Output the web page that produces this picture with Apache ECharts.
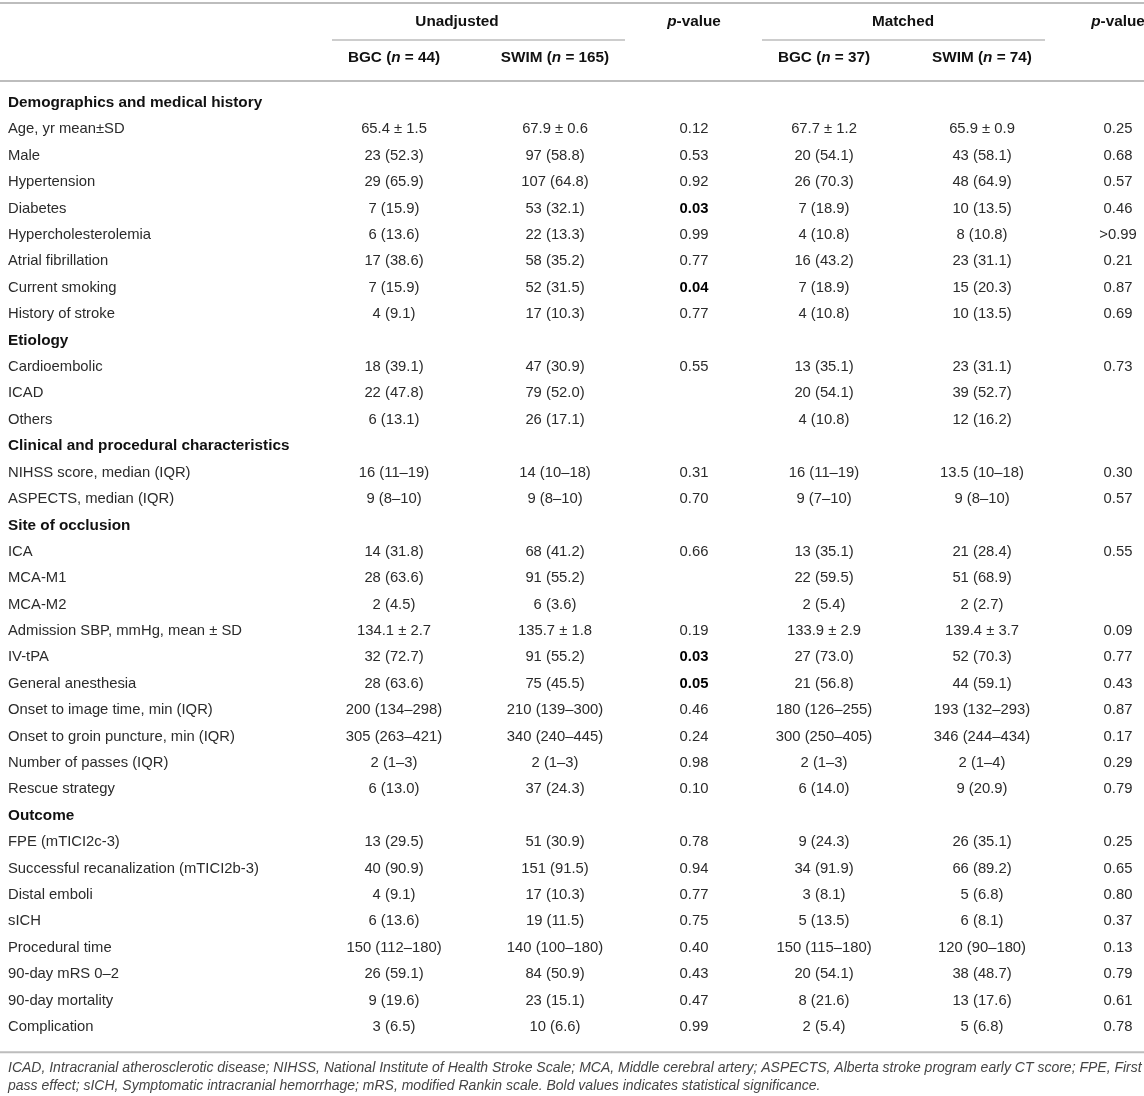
<!DOCTYPE html>
<html>
<head>
<meta charset="utf-8">
<script src="https://cdn.jsdelivr.net/npm/echarts@6/dist/echarts.min.js"></script>
<style>
  html, body { margin: 0; padding: 0; background: #fff; }
  #table-chart { width: 1144px; height: 1096px; }
</style>
</head>
<body>
<div id="table-chart"></div>
<script>
// Table values, row by row
const rowLabels = [
    'Demographics and medical history',
    'Age, yr mean±SD', 'Male', 'Hypertension', 'Diabetes', 'Hypercholesterolemia',
    'Atrial fibrillation', 'Current smoking', 'History of stroke',
    'Etiology',
    'Cardioembolic', 'ICAD', 'Others',
    'Clinical and procedural characteristics',
    'NIHSS score, median (IQR)', 'ASPECTS, median (IQR)',
    'Site of occlusion',
    'ICA', 'MCA-M1', 'MCA-M2', 'Admission SBP, mmHg, mean ± SD', 'IV-tPA',
    'General anesthesia', 'Onset to image time, min (IQR)',
    'Onset to groin puncture, min (IQR)', 'Number of passes (IQR)', 'Rescue strategy',
    'Outcome',
    'FPE (mTICI2c-3)', 'Successful recanalization (mTICI2b-3)', 'Distal emboli', 'sICH',
    'Procedural time', '90-day mRS 0–2', '90-day mortality', 'Complication'
];
const sectionRows = ['Demographics and medical history', 'Etiology',
    'Clinical and procedural characteristics', 'Site of occlusion', 'Outcome'];

const bgcUnadjusted = [
    '', '65.4 ± 1.5', '23 (52.3)', '29 (65.9)', '7 (15.9)', '6 (13.6)', '17 (38.6)', '7 (15.9)', '4 (9.1)',
    '', '18 (39.1)', '22 (47.8)', '6 (13.1)',
    '', '16 (11–19)', '9 (8–10)',
    '', '14 (31.8)', '28 (63.6)', '2 (4.5)', '134.1 ± 2.7', '32 (72.7)', '28 (63.6)', '200 (134–298)',
    '305 (263–421)', '2 (1–3)', '6 (13.0)',
    '', '13 (29.5)', '40 (90.9)', '4 (9.1)', '6 (13.6)', '150 (112–180)', '26 (59.1)', '9 (19.6)', '3 (6.5)'
];
const swimUnadjusted = [
    '', '67.9 ± 0.6', '97 (58.8)', '107 (64.8)', '53 (32.1)', '22 (13.3)', '58 (35.2)', '52 (31.5)', '17 (10.3)',
    '', '47 (30.9)', '79 (52.0)', '26 (17.1)',
    '', '14 (10–18)', '9 (8–10)',
    '', '68 (41.2)', '91 (55.2)', '6 (3.6)', '135.7 ± 1.8', '91 (55.2)', '75 (45.5)', '210 (139–300)',
    '340 (240–445)', '2 (1–3)', '37 (24.3)',
    '', '51 (30.9)', '151 (91.5)', '17 (10.3)', '19 (11.5)', '140 (100–180)', '84 (50.9)', '23 (15.1)', '10 (6.6)'
];
const pUnadjusted = [
    '', '0.12', '0.53', '0.92', '0.03', '0.99', '0.77', '0.04', '0.77',
    '', '0.55', '', '',
    '', '0.31', '0.70',
    '', '0.66', '', '', '0.19', '0.03', '0.05', '0.46',
    '0.24', '0.98', '0.10',
    '', '0.78', '0.94', '0.77', '0.75', '0.40', '0.43', '0.47', '0.99'
];
const bgcMatched = [
    '', '67.7 ± 1.2', '20 (54.1)', '26 (70.3)', '7 (18.9)', '4 (10.8)', '16 (43.2)', '7 (18.9)', '4 (10.8)',
    '', '13 (35.1)', '20 (54.1)', '4 (10.8)',
    '', '16 (11–19)', '9 (7–10)',
    '', '13 (35.1)', '22 (59.5)', '2 (5.4)', '133.9 ± 2.9', '27 (73.0)', '21 (56.8)', '180 (126–255)',
    '300 (250–405)', '2 (1–3)', '6 (14.0)',
    '', '9 (24.3)', '34 (91.9)', '3 (8.1)', '5 (13.5)', '150 (115–180)', '20 (54.1)', '8 (21.6)', '2 (5.4)'
];
const swimMatched = [
    '', '65.9 ± 0.9', '43 (58.1)', '48 (64.9)', '10 (13.5)', '8 (10.8)', '23 (31.1)', '15 (20.3)', '10 (13.5)',
    '', '23 (31.1)', '39 (52.7)', '12 (16.2)',
    '', '13.5 (10–18)', '9 (8–10)',
    '', '21 (28.4)', '51 (68.9)', '2 (2.7)', '139.4 ± 3.7', '52 (70.3)', '44 (59.1)', '193 (132–293)',
    '346 (244–434)', '2 (1–4)', '9 (20.9)',
    '', '26 (35.1)', '66 (89.2)', '5 (6.8)', '6 (8.1)', '120 (90–180)', '38 (48.7)', '13 (17.6)', '5 (6.8)'
];
const pMatched = [
    '', '0.25', '0.68', '0.57', '0.46', '>0.99', '0.21', '0.87', '0.69',
    '', '0.73', '', '',
    '', '0.30', '0.57',
    '', '0.55', '', '', '0.09', '0.77', '0.43', '0.87',
    '0.17', '0.29', '0.79',
    '', '0.25', '0.65', '0.80', '0.37', '0.13', '0.79', '0.61', '0.78'
];
// rows whose unadjusted p-value is printed bold
const significantRows = ['Diabetes', 'Current smoking', 'IV-tPA', 'General anesthesia'];

const groupHeaders = ['Unadjusted', 'Matched'];
const subHeaderGroups = ['BGC', 'SWIM', 'BGC', 'SWIM'];
const subHeaderN = [44, 165, 37, 74];
const footnote = 'ICAD, Intracranial atherosclerotic disease; NIHSS, National Institute of Health Stroke Scale; MCA, Middle cerebral artery; ASPECTS, Alberta stroke program early CT score; FPE, First\npass effect; sICH, Symptomatic intracranial hemorrhage; mRS, modified Rankin scale. Bold values indicates statistical significance.';

// layout (x positions on the hidden 0..1144 axis)
const labelX = 8;
const valueCols = [394, 555, 694, 824, 982, 1118];
const groupCenters = [457, 903];
const groupSpans = [[332, 625], [762, 1045]];
const pCols = [694, 1118];

const FONT = '"Liberation Sans", Arial, sans-serif';
const TEXT = '#2b2b2b';
const RULE = '#bdbdbd';
const BODY_SIZE = 14.8;
const BOLD_SIZE = 15.3;

function txt(x, y, text, opts) {
    opts = opts || {};
    return {
        type: 'text',
        style: Object.assign({
            text: text, x: x, y: y,
            fontFamily: FONT, fontSize: BODY_SIZE, fontWeight: 'normal',
            fill: TEXT,
            align: opts.align || 'center', textAlign: opts.align || 'center',
            verticalAlign: 'middle', textVerticalAlign: 'middle'
        }, opts.style || {})
    };
}

function renderBodyRow(params, api) {
    const i = api.value(1);
    const y = api.coord([0, i])[1];
    const label = rowLabels[i];
    const children = [];
    if (sectionRows.includes(label)) {
        children.push(txt(api.coord([labelX, i])[0], y, label,
            { align: 'left', style: { fontWeight: 'bold', fontSize: BOLD_SIZE, fill: '#111' } }));
        return { type: 'group', children: children };
    }
    children.push(txt(api.coord([labelX, i])[0], y, label, { align: 'left' }));
    const cols = [bgcUnadjusted, swimUnadjusted, pUnadjusted, bgcMatched, swimMatched, pMatched];
    cols.forEach((arr, c) => {
        if (!arr[i]) return;
        const bold = c === 2 && significantRows.includes(label);
        children.push(txt(api.coord([valueCols[c], i])[0], y, arr[i],
            bold ? { style: { fontWeight: 'bold', fill: '#000' } } : {}));
    });
    return { type: 'group', children: children };
}

function renderHeader(params, api) {
    const r = api.value(1);
    const y = api.coord([0, r])[1];
    const cs = params.coordSys;
    const hdr = { fontWeight: 'bold', fontSize: BOLD_SIZE, fill: '#111' };
    const rich = {
        b: { fontFamily: FONT, fontSize: BOLD_SIZE, fontWeight: 'bold', fill: '#111' },
        i: { fontFamily: FONT, fontSize: BOLD_SIZE, fontWeight: 'bold', fontStyle: 'italic', fill: '#111' }
    };
    const children = [];
    if (r === 0) {
        groupHeaders.forEach((g, k) => {
            children.push(txt(api.coord([groupCenters[k], 0])[0], y, g, { style: hdr }));
            const x0 = api.coord([groupSpans[k][0], 0])[0];
            const x1 = api.coord([groupSpans[k][1], 0])[0];
            const yb = cs.y + cs.height / 2;
            children.push({ type: 'line', shape: { x1: x0, y1: yb, x2: x1, y2: yb },
                style: { stroke: RULE, lineWidth: 1.5 } });
        });
        pCols.forEach(px => {
            children.push(txt(api.coord([px, 0])[0], y, '{i|p}{b|-value}', { style: { rich: rich } }));
        });
        // top rule and rule under header
        children.push({ type: 'line', shape: { x1: cs.x, y1: cs.y - 1, x2: cs.x + cs.width, y2: cs.y - 1 },
            style: { stroke: RULE, lineWidth: 2 } });
        children.push({ type: 'line', shape: { x1: cs.x, y1: cs.y + cs.height + 5, x2: cs.x + cs.width, y2: cs.y + cs.height + 5 },
            style: { stroke: RULE, lineWidth: 2 } });
    } else {
        subHeaderGroups.forEach((g, k) => {
            const c = k < 2 ? k : k + 1;
            children.push(txt(api.coord([valueCols[c], 1])[0], y,
                '{b|' + g + ' (}{i|n}{b| = ' + subHeaderN[k] + ')}', { style: { rich: rich } }));
        });
    }
    return { type: 'group', children: children };
}

function renderBodyRule(params, api) {
    const cs = params.coordSys;
    const yb = cs.y + cs.height + 12;
    return { type: 'line', shape: { x1: cs.x, y1: yb, x2: cs.x + cs.width, y2: yb },
        style: { stroke: RULE, lineWidth: 2 } };
}

const chart = echarts.init(document.getElementById('table-chart'), null, { renderer: 'canvas' });

chart.setOption({
    animation: false,
    backgroundColor: '#fff',
    grid: [
        { left: 0, right: 0, top: 4, height: 72 },
        { left: 0, right: 0, top: 89.8, height: 950.4 }
    ],
    xAxis: [
        { type: 'value', gridIndex: 0, min: 0, max: 1144, show: false },
        { type: 'value', gridIndex: 1, min: 0, max: 1144, show: false }
    ],
    yAxis: [
        { type: 'category', gridIndex: 0, inverse: true, data: ['groups', 'arms'], show: false },
        { type: 'category', gridIndex: 1, inverse: true, data: rowLabels, show: false }
    ],
    series: [
        {
            type: 'custom', xAxisIndex: 0, yAxisIndex: 0,
            renderItem: renderHeader,
            data: [[0, 0], [0, 1]]
        },
        {
            type: 'custom', xAxisIndex: 1, yAxisIndex: 1,
            renderItem: renderBodyRow,
            data: rowLabels.map((_, i) => [0, i])
        },
        {
            type: 'custom', xAxisIndex: 1, yAxisIndex: 1,
            renderItem: renderBodyRule,
            data: [[0, 0]]
        }
    ],
    graphic: [{
        type: 'text',
        left: 8, top: 1059,
        style: {
            text: footnote,
            fontFamily: FONT, fontSize: 14, fontStyle: 'italic',
            fill: '#444', lineHeight: 18
        }
    }]
});
</script>
</body>
</html>
